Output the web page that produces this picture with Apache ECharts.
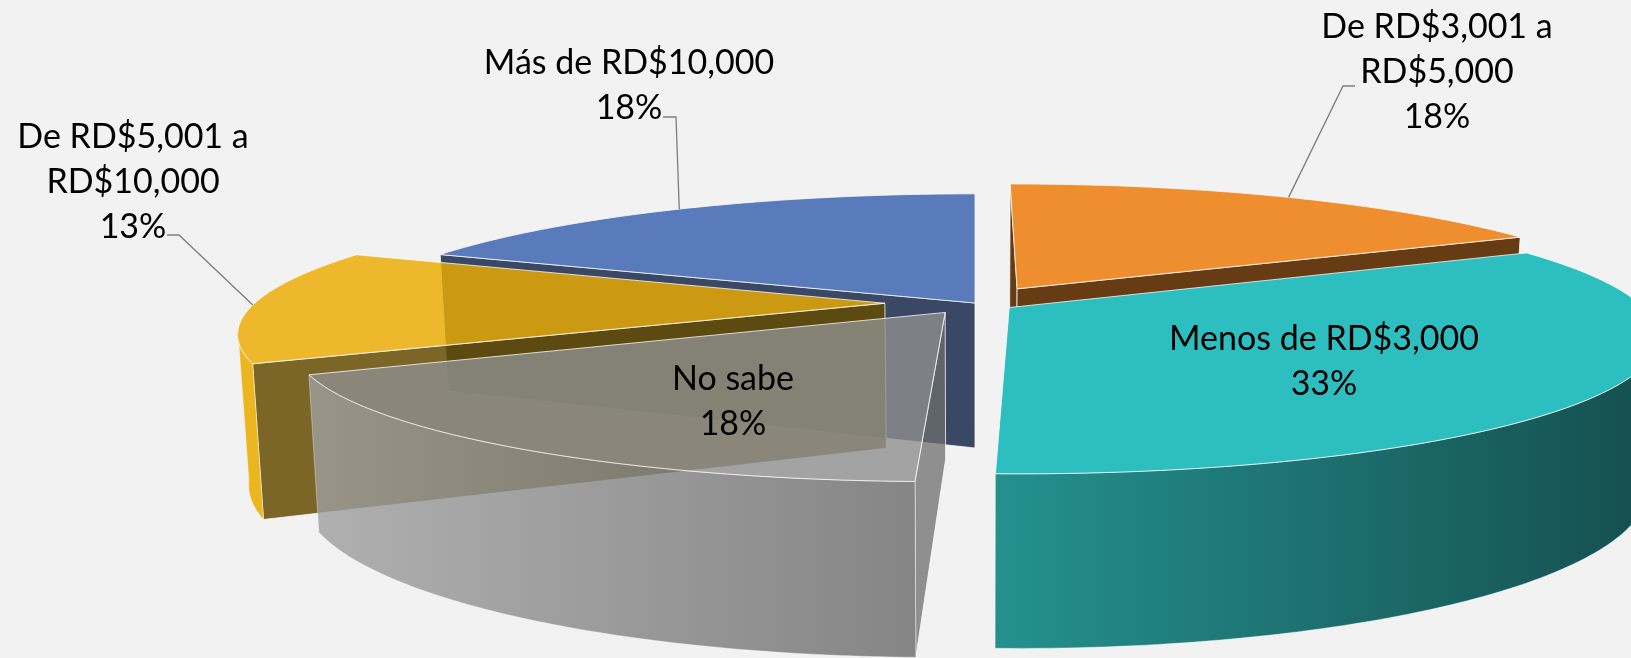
<!DOCTYPE html>
<html>
<head>
<meta charset="utf-8">
<style>
  html, body { margin: 0; padding: 0; background: #f2f2f2; overflow: hidden; }
  #chart { width: 1631px; height: 658px; }
</style>
<script src="https://cdn.jsdelivr.net/npm/echarts@6/dist/echarts.min.js"></script>
</head>
<body>
<div id="chart"></div>
<script>
// clockwise from 12 o'clock
const categories = ["De RD$3,001 a\nRD$5,000", "Menos de RD$3,000", "No sabe", "De RD$5,001 a\nRD$10,000", "Más de RD$10,000"];
const shares = [17.6, 32.85, 17.6, 13.49, 18.46];

// painted back to front
const drawOrder = [4, 0, 3, 1, 2];
const explode = [0.13, 0.064, 0.085, 0.143, 0];
const topColors = ["#ef8e2e", "#2dbebf", "rgba(143,143,143,0.8)", "rgba(236,171,0,0.82)", "#5a7bbb"];
const sideColors = ["#673c14", "#1c6f70", "rgba(110,110,110,0.75)", "rgba(100,75,1,0.84)", "#3a4866"];
const wallColors = [
  ["#ef8e2e", "#ef8e2e"],
  ["#24918f", "#154e4e"],
  ["rgba(160,160,160,0.8)", "rgba(106,106,106,0.8)"],
  ["#ebb61f", "#ebb61f"],
  ["#5a7bbb", "#5a7bbb"],
];
const labelAnchors = [[1437, 72], [1324, 362], [733, 402], [133, 182], [629, 86]];
const leaderElbows = [[[1355, 86], [1343, 86]], null, null, [[167, 235], [179, 235]], [[663, 117], [676, 117]]];

// pie projection
const CX = 975, CY = 303, RX = 630, RY = 131, DEPTH = 145, PERSP = 0.2;

function project(u, v, bottom) {
  const s = 1 / (1 + PERSP * v);
  const x = CX + RX * u * s;
  const y = CY - RY * v * s;
  if (!bottom) return [x, y];
  return [CX + (x - CX) * 0.985, y + DEPTH * Math.pow(s, 0.8)];
}

const total = shares.reduce((a, b) => a + b, 0);
let acc = 0;
const slices = shares.map((value, i) => {
  const start = (acc / total) * Math.PI * 2;
  acc += value;
  const end = (acc / total) * Math.PI * 2;
  const mid = (start + end) / 2;
  return {
    start, end, mid,
    ox: Math.sin(mid) * explode[i],
    oy: Math.cos(mid) * explode[i],
  };
});

function arcPoints(sl, from, to, bottom) {
  const pts = [];
  const n = 80;
  for (let j = 0; j <= n; j++) {
    const t = from + ((to - from) * j) / n;
    pts.push(project(sl.ox + Math.sin(t), sl.oy + Math.cos(t), bottom));
  }
  return pts;
}

function poly(points, fill, stroke) {
  return {
    type: "polygon",
    shape: { points },
    style: { fill, stroke: stroke || "rgba(255,255,255,0.75)", lineWidth: 1 },
  };
}

function renderSlice(params) {
  const i = drawOrder[params.dataIndex];
  const sl = slices[i];
  const apex = project(sl.ox, sl.oy);
  const apexLow = project(sl.ox, sl.oy, true);
  const midRim = project(sl.ox + Math.sin(sl.mid), sl.oy + Math.cos(sl.mid));
  const children = [];

  // radial walls, only the ones that hang below the top face on screen
  [sl.start, sl.end].forEach((t) => {
    const rim = project(sl.ox + Math.sin(t), sl.oy + Math.cos(t));
    const rimLow = project(sl.ox + Math.sin(t), sl.oy + Math.cos(t), true);
    const ex = rim[0] - apex[0];
    const ey = rim[1] - apex[1];
    const side = ex * (midRim[1] - apex[1]) - ey * (midRim[0] - apex[0]);
    if (side * ex < 0) {
      children.push(poly([apex, rim, rimLow, apexLow], sideColors[i]));
    }
  });

  // rim wall, the part that faces the viewer
  const limit = Math.acos(-PERSP);
  const from = Math.max(sl.start, limit);
  const to = Math.min(sl.end, Math.PI * 2 - limit);
  if (from < to) {
    const upper = arcPoints(sl, from, to, false);
    const lower = arcPoints(sl, from, to, true).reverse();
    children.push(
      poly(
        upper.concat(lower),
        new echarts.graphic.LinearGradient(0, 0, 1, 0, [
          { offset: 0, color: wallColors[i][0] },
          { offset: 1, color: wallColors[i][1] },
        ]),
        "rgba(255,255,255,0.35)"
      )
    );
  }

  children.push(poly([apex].concat(arcPoints(sl, sl.start, sl.end, false)), topColors[i]));
  return { type: "group", children };
}

function renderLabel(params) {
  const i = params.dataIndex;
  const sl = slices[i];
  const children = [];
  if (leaderElbows[i]) {
    const rim = project(sl.ox + Math.sin(sl.mid), sl.oy + Math.cos(sl.mid));
    children.push({
      type: "polyline",
      shape: { points: leaderElbows[i].concat([rim]) },
      style: { stroke: "#7f7f7f", lineWidth: 1.3, fill: "none" },
    });
  }
  children.push({
    type: "text",
    x: labelAnchors[i][0],
    y: labelAnchors[i][1],
    style: {
      text: categories[i] + "\n" + Math.round(shares[i]) + "%",
      fill: "#000",
      font: '34px Lato',
      lineHeight: 45,
      align: "center",
      verticalAlign: "middle",
    },
  });
  return { type: "group", children };
}

const chart = echarts.init(document.getElementById("chart"), null, { renderer: "canvas" });
chart.setOption({
  backgroundColor: "#f2f2f2",
  animation: false,
  series: [
    {
      type: "custom",
      coordinateSystem: "none",
      renderItem: renderSlice,
      silent: true,
      data: drawOrder.map((i) => ({ name: categories[i], value: shares[i] })),
      z: 1,
    },
    {
      type: "custom",
      coordinateSystem: "none",
      renderItem: renderLabel,
      silent: true,
      data: categories.map((c, i) => ({ name: c, value: shares[i] })),
      z: 2,
    },
  ],
});
</script>
</body>
</html>
